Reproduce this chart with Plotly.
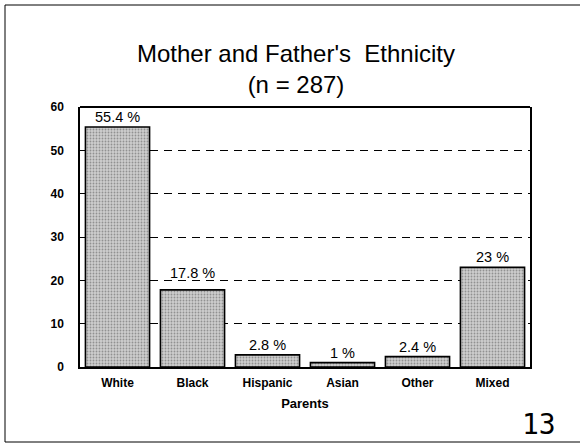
import plotly.graph_objects as go

categories = ["White", "Black", "Hispanic", "Asian", "Other", "Mixed"]
values = [55.4, 17.8, 2.8, 1, 2.4, 23]
labels = ["55.4 %", "17.8 %", "2.8 %", "1 %", "2.4 %", "23 %"]
tick_vals = [0, 10, 20, 30, 40, 50, 60]

W, H = 580, 444
L, R, T, B = 80, 50, 107, 77
PW, PH = W - L - R, H - T - B


def px(x):
    return (x - L) / PW


def py(y):
    return (H - B - y) / PH


# label vertical offsets (px above bar top), style only
label_shift = [10, 17, 10, 10, 10, 10]

FONT = "Liberation Sans, Arial"

fig = go.Figure()
fig.add_trace(go.Bar(
    x=categories, y=values,
    marker=dict(color="#c0c0c0", line=dict(color="black", width=1.6),
                pattern=dict(shape=".", fgcolor="#555555", bgcolor="#cdcdcd", size=3, solidity=0.3)),
    width=0.855,
))

annotations = []
for c, v, t, s in zip(categories, values, labels, label_shift):
    annotations.append(dict(x=c, y=v, text=t, xref="x", yref="y", showarrow=False,
                            yanchor="middle", yshift=s,
                            font=dict(family=FONT, size=14.5, color="black")))
annotations.append(dict(text="13", xref="paper", yref="paper", x=px(558), y=py(443),
                        xanchor="right", yanchor="bottom", showarrow=False,
                        font=dict(family="DejaVu Sans Mono", size=28, color="black")))

fig.update_layout(
    width=W, height=H, margin=dict(l=L, r=R, t=T, b=B),
    paper_bgcolor="white", plot_bgcolor="white", showlegend=False,
    font=dict(family=FONT, color="black"),
    title=dict(text="Mother and Father's  Ethnicity<br>(n = 287)", x=px(296), xref="paper",
               xanchor="center", yref="container", y=1 - 62 / H, yanchor="middle",
               font=dict(size=24, family=FONT)),
    xaxis=dict(showline=True, linecolor="black", linewidth=2, mirror=False, ticks="", ticklen=0,
               tickfont=dict(size=12, family=FONT, weight="bold"), ticklabelstandoff=4,
               title=dict(text="Parents", font=dict(size=13, weight="bold"), standoff=9)),
    yaxis=dict(range=[0, 60], tickvals=tick_vals, showline=True, linecolor="black", linewidth=1.5,
               mirror=True, showgrid=True, gridcolor="black", griddash="8px,6px", gridwidth=1,
               zeroline=False, ticks="", ticklen=0, tickfont=dict(size=12, weight="bold"),
               ticklabelstandoff=12),
    annotations=annotations,
)
# plot top frame line
fig.add_shape(type="line", xref="x domain", yref="y domain", x0=0, x1=1, y0=1, y1=1,
              line=dict(color="black", width=2))
# outer page border (right side runs off the page)
fig.add_shape(type="rect", xref="paper", yref="paper",
              x0=px(5), x1=px(585), y0=py(442), y1=py(5),
              line=dict(color="black", width=1), layer="below")
fig.write_html("out.html")
